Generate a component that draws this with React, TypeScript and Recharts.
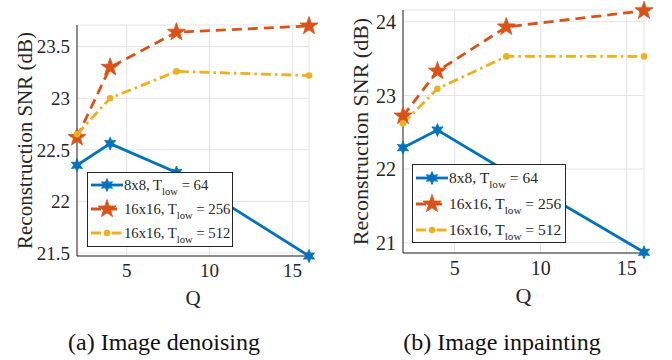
import React from "react";
import { LineChart, Line, XAxis, YAxis, CartesianGrid, Legend } from "recharts";

// Q (number of quantization levels) on the x axis
const qValues = [2, 4, 8, 16];

// (a) Image denoising, reconstruction SNR in dB
const denoise8x8 = [22.35, 22.56, 22.28, 21.47];
const denoise16x16low256 = [22.62, 23.3, 23.64, 23.7];
const denoise16x16low512 = [22.65, 23.0, 23.26, 23.22];

// (b) Image inpainting
const inpaint8x8 = [22.29, 22.53, 21.97, 20.87];
const inpaint16x16low256 = [22.72, 23.33, 23.93, 24.15];
const inpaint16x16low512 = [22.62, 23.09, 23.53, 23.53];

const blockSizes = ["8x8", "16x16", "16x16"];
const lowThresholds = [64, 256, 512];

const qTicks = [5, 10, 15];
const denoiseTicks = [21.5, 22, 22.5, 23, 23.5];
const inpaintTicks = [21, 22, 23, 24];

const FONT = "'Times New Roman', Times, Tinos, 'Liberation Serif', 'Noto Serif', 'DejaVu Serif', serif";
const INK = "#262626";

const series = [
  { key: "low64", color: "#0072BD", dash: undefined, marker: "hex" },
  { key: "low256", color: "#D95319", dash: "10 6", marker: "pent" },
  { key: "low512", color: "#EDB120", dash: "10 4 2.5 4", marker: "dot" },
];

function buildRows(a: number[], b: number[], c: number[]) {
  return qValues.map((q, i) => ({ q, low64: a[i], low256: b[i], low512: c[i] }));
}

const denoiseRows = buildRows(denoise8x8, denoise16x16low256, denoise16x16low512);
const inpaintRows = buildRows(inpaint8x8, inpaint16x16low256, inpaint16x16low512);

function starPoints(cx: number, cy: number, n: number, R: number, r: number) {
  const pts: string[] = [];
  for (let i = 0; i < n * 2; i++) {
    const rad = i % 2 === 0 ? R : r;
    const a = -Math.PI / 2 + (i * Math.PI) / n;
    pts.push(`${cx + rad * Math.cos(a)},${cy + rad * Math.sin(a)}`);
  }
  return pts.join(" ");
}

function Marker({ cx, cy, kind, color }: any) {
  if (cx == null || cy == null) return null;
  if (kind === "dot") return <circle cx={cx} cy={cy} r={3.3} fill={color} />;
  if (kind === "pent")
    return <polygon points={starPoints(cx, cy, 5, 9.5, 3.8)} fill={color} stroke={color} strokeWidth={0.8} />;
  return <polygon points={starPoints(cx, cy, 6, 6.5, 3.2)} fill={color} stroke={color} strokeWidth={0.8} />;
}

function YTitle(props: any) {
  const vb = props.viewBox || { y: 0, height: 0 };
  const cy = vb.y + vb.height / 2;
  return (
    <text
      x={props.x0}
      y={cy}
      dy="0.34em"
      transform={`rotate(-90, ${props.x0}, ${cy})`}
      textAnchor="middle"
      fill={INK}
      style={{ fontFamily: FONT }}
      fontSize={props.size}
    >
      Reconstruction SNR (dB)
    </text>
  );
}

function LegendBox({ width, height, rowH, fontSize }: any) {
  return (
    <div
      style={{
        width,
        height,
        boxSizing: "border-box",
        border: `1px solid ${INK}`,
        background: "#fff",
        fontFamily: FONT,
        fontSize,
        color: INK,
      }}
    >
      {series.map((s, i) => (
        <div key={s.key} style={{ height: rowH, display: "flex", alignItems: "center" }}>
          <svg width={34} height={22} style={{ marginLeft: 2, flex: "none" }}>
            <line x1={1} x2={33} y1={11} y2={11} stroke={s.color} strokeWidth={2.8} strokeDasharray={s.dash} />
            <Marker cx={17} cy={11} kind={s.marker} color={s.color} />
          </svg>
          <span style={{ whiteSpace: "nowrap", lineHeight: 1 }}>
            {blockSizes[i]}, T<sub style={{ fontSize: "0.72em", verticalAlign: "-0.45em", lineHeight: 0 }}>low</sub> = {lowThresholds[i]}
          </span>
        </div>
      ))}
    </div>
  );
}

function Panel({ rows, domain, ticks, yWidth, margin, tickSize, labelSize, legend }: any) {
  return (
    <LineChart width={336} height={316} data={rows} margin={margin} style={{ fontFamily: FONT }}>
      <CartesianGrid stroke="#e4e4e4" strokeWidth={1} />
      <XAxis
        dataKey="q"
        type="number"
        domain={[2, 16]}
        ticks={qTicks}
        height={30}
        axisLine={{ stroke: INK }}
        tickLine={false}
        tickSize={0}
        tickMargin={8}
        tick={{ fill: INK, fontSize: tickSize, fontFamily: FONT }}
        label={{ value: "Q", position: "bottom", offset: 4, fill: INK, fontSize: labelSize, fontFamily: FONT }}
      />
      <YAxis
        type="number"
        domain={domain}
        ticks={ticks}
        width={yWidth}
        axisLine={{ stroke: INK }}
        tickLine={false}
        tickSize={0}
        tickMargin={7}
        tick={{ fill: INK, fontSize: tickSize, fontFamily: FONT }}
        label={<YTitle x0={25} size={labelSize} />}
      />
      {series.map((s) => (
        <Line
          key={s.key}
          dataKey={s.key}
          type="linear"
          stroke={s.color}
          strokeWidth={2.8}
          strokeDasharray={s.dash}
          isAnimationActive={false}
          activeDot={false}
          dot={(p: any) => (
            <Marker key={`${s.key}-${p.index}`} cx={p.cx} cy={p.cy} kind={s.marker} color={s.color} />
          )}
        />
      ))}
      <Legend
        layout="vertical"
        align="center"
        verticalAlign="middle"
        wrapperStyle={{ left: legend.left, top: legend.top, width: legend.width, height: legend.height }}
        content={() => (
          <LegendBox width={legend.width} height={legend.height} rowH={legend.rowH} fontSize={legend.fontSize} />
        )}
      />
    </LineChart>
  );
}

const captionStyle: React.CSSProperties = {
  position: "absolute",
  top: 330,
  width: 336,
  textAlign: "center",
  fontFamily: FONT,
  fontSize: 24,
  lineHeight: "24px",
  color: "#111",
};

export default function App() {
  return (
    <div style={{ position: "absolute", left: 0, top: 0, width: 672, height: 360, background: "#fff", overflow: "hidden" }}>
      <div style={{ position: "absolute", left: 0, top: 0 }}>
        <Panel
          rows={denoiseRows}
          domain={[21.47, 23.71]}
          ticks={denoiseTicks}
          yWidth={77}
          margin={{ top: 25, right: 27, left: 0, bottom: 30 }}
          tickSize={19}
          labelSize={21}
          legend={{ left: 87, top: 172, width: 146, height: 75, rowH: 24, fontSize: 14.7 }}
        />
      </div>
      <div style={{ position: "absolute", left: 336, top: 0 }}>
        <Panel
          rows={inpaintRows}
          domain={[20.86, 24.16]}
          ticks={inpaintTicks}
          yWidth={67}
          margin={{ top: 10, right: 28, left: 0, bottom: 33 }}
          tickSize={20}
          labelSize={22}
          legend={{ left: 76, top: 164, width: 154, height: 79, rowH: 26, fontSize: 15.5 }}
        />
      </div>
      <div style={{ ...captionStyle, left: -4 }}>(a) Image denoising</div>
      <div style={{ ...captionStyle, left: 334 }}>(b) Image inpainting</div>
    </div>
  );
}
